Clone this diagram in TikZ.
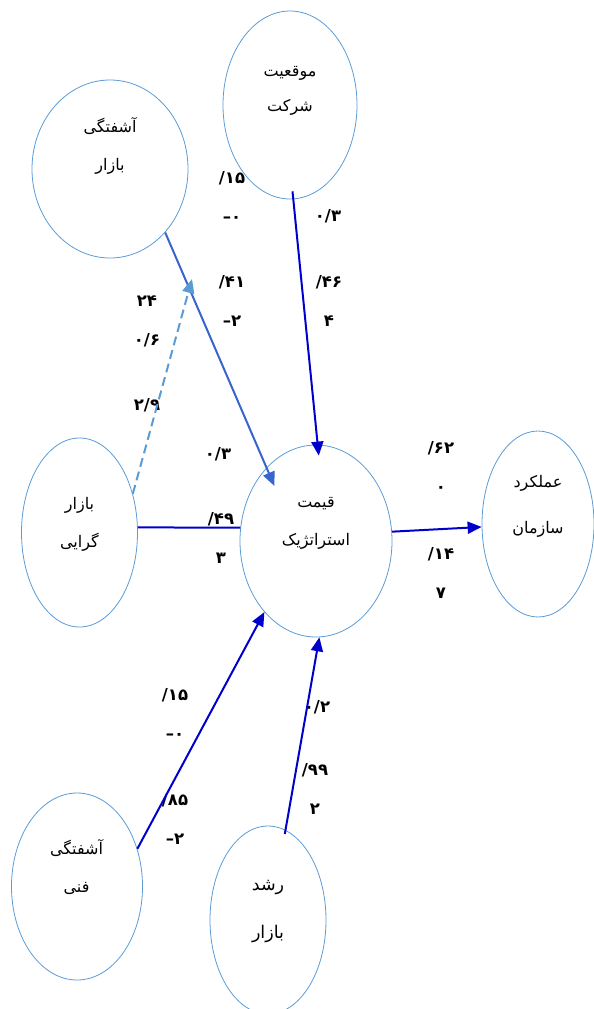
\documentclass[tikz,border=0pt]{standalone}
\usepackage{fontspec}
\usepackage{xcolor}
\usepackage{tikz}
\usetikzlibrary{arrows.meta,positioning,shapes.geometric}
\newfontfamily\arabicfont[Script=Arabic]{DejaVu Sans}
\newfontfamily\numfont[Script=Latin]{DejaVu Sans}
\TeXXeTstate=1
\newcommand{\rtltext}[1]{\beginR #1\endR}
\definecolor{ellblue}{RGB}{91,155,213}
\definecolor{pathblue}{RGB}{0,0,204}
\definecolor{midblue}{RGB}{55,100,205}

\begin{document}
\begin{tikzpicture}[
    x=1pt, y=-1pt,
    >={Triangle[length=14pt,width=12pt]},
    % Styles
    factor/.style={ellipse, draw=ellblue, line width=0.8pt, inner sep=0pt},
    factortext/.style={font=\arabicfont\fontsize{16}{38}\selectfont, align=center, inner sep=0pt},
    coef/.style={font=\numfont\bfseries\fontsize{16.5}{39}\selectfont, align=center, inner sep=0pt},
    arrow/.style={->, line width=2pt, draw=pathblue},
    arrow_mid/.style={->, line width=2pt, draw=midblue},
    arrow_dash/.style={->, line width=2pt, draw=ellblue, dash pattern=on 9pt off 5pt},
    line/.style={-, line width=2pt, draw=pathblue}
]
\useasboundingbox (0,0) rectangle (594,1009);
\clip (0,0) rectangle (594,1009);

% --- Factors ---
\node[factor, minimum width=156pt, minimum height=178pt] (market_turb) at (110,169) {};
\node[factor, minimum width=134pt, minimum height=188pt] (firm_pos) at (290,105) {};
\node[factor, minimum width=116pt, minimum height=189pt] (market_orient) at (79.5,532.5) {};
\node[factor, minimum width=152pt, minimum height=192pt] (price) at (316,541) {};
\node[factor, minimum width=112pt, minimum height=186pt] (org_perf) at (538,524) {};
\node[factor, minimum width=131pt, minimum height=187pt] (tech_turb) at (77,886.5) {};
\node[factor, minimum width=116pt, minimum height=188pt] (market_growth) at (268,920) {};

% --- Factor texts ---
\node[factortext] (market_turb_txt) at (110,146) {\rtltext{آشفتگی}\\\rtltext{بازار}};
\node[factortext, font=\arabicfont\fontsize{16}{35}\selectfont] (firm_pos_txt) at (290,90.5) {\rtltext{موقعیت}\\\rtltext{شرکت}};
\node[factortext] (market_orient_txt) at (79.5,524.5) {\rtltext{بازار}\\\rtltext{گرایی}};
\node[factortext] (price_txt) at (316,523.5) {\rtltext{قیمت}\\\rtltext{استراتژیک}};
\node[factortext, font=\arabicfont\fontsize{16}{46}\selectfont] (org_perf_txt) at (538,506.5) {\rtltext{عملکرد}\\\rtltext{سازمان}};
\node[factortext] (tech_turb_txt) at (76.5,867) {\rtltext{آشفتگی}\\\rtltext{فنی}};
\node[factortext, font=\arabicfont\fontsize{17.5}{48}\selectfont] (market_growth_txt) at (268,911) {\rtltext{رشد}\\\rtltext{بازار}};

% --- Coefficients ---
\node[coef] (coef_mt_a) at (232,196.5) {/۱۵\\–۰};
\node[coef] (coef_mt_b) at (232,301) {/۴۱\\–۲};
\node[coef] (coef_fp_a) at (328,216) {۰/۳};
\node[coef] (coef_fp_b) at (329,301) {/۴۶\\۴};
\node[coef] (coef_mo_a) at (147,321) {۲۴\\۰/۶};
\node[coef] (coef_mo_b) at (147,405) {۲/۹};
\node[coef] (coef_ml_a) at (218,454) {۰/۳};
\node[coef] (coef_ml_b) at (221,538) {/۴۹\\۳};
\node[coef] (coef_op_a) at (441,467) {/۶۲\\۰};
\node[coef] (coef_op_b) at (441,573) {/۱۴\\۷};
\node[coef] (coef_tt_a) at (175,714) {/۱۵\\–۰};
\node[coef] (coef_tt_b) at (175,819) {/۸۵\\–۲};
\node[coef] (coef_mg_a) at (317,707) {۰/۲};
\node[coef] (coef_mg_b) at (315,789) {/۹۹\\۲};

% --- Connections ---
\coordinate (dash_end) at (192,279);
\draw[arrow_mid, shorten >=-20pt] (market_turb.-49) -- (price.124);
\draw[arrow, shorten <=-8pt, shorten >=-11pt] (firm_pos.-88) -- (price.89);
\draw[arrow_dash] (market_orient.36) -- (dash_end);
\draw[line] (market_orient.5) -- (price.170);
\draw[arrow] (price.7.5) -- (org_perf.183);
\draw[arrow] (tech_turb.32) -- (price.-126);
\draw[arrow, shorten <=-4pt] (market_growth.79) -- (price.-88);

\end{tikzpicture}
\end{document}
